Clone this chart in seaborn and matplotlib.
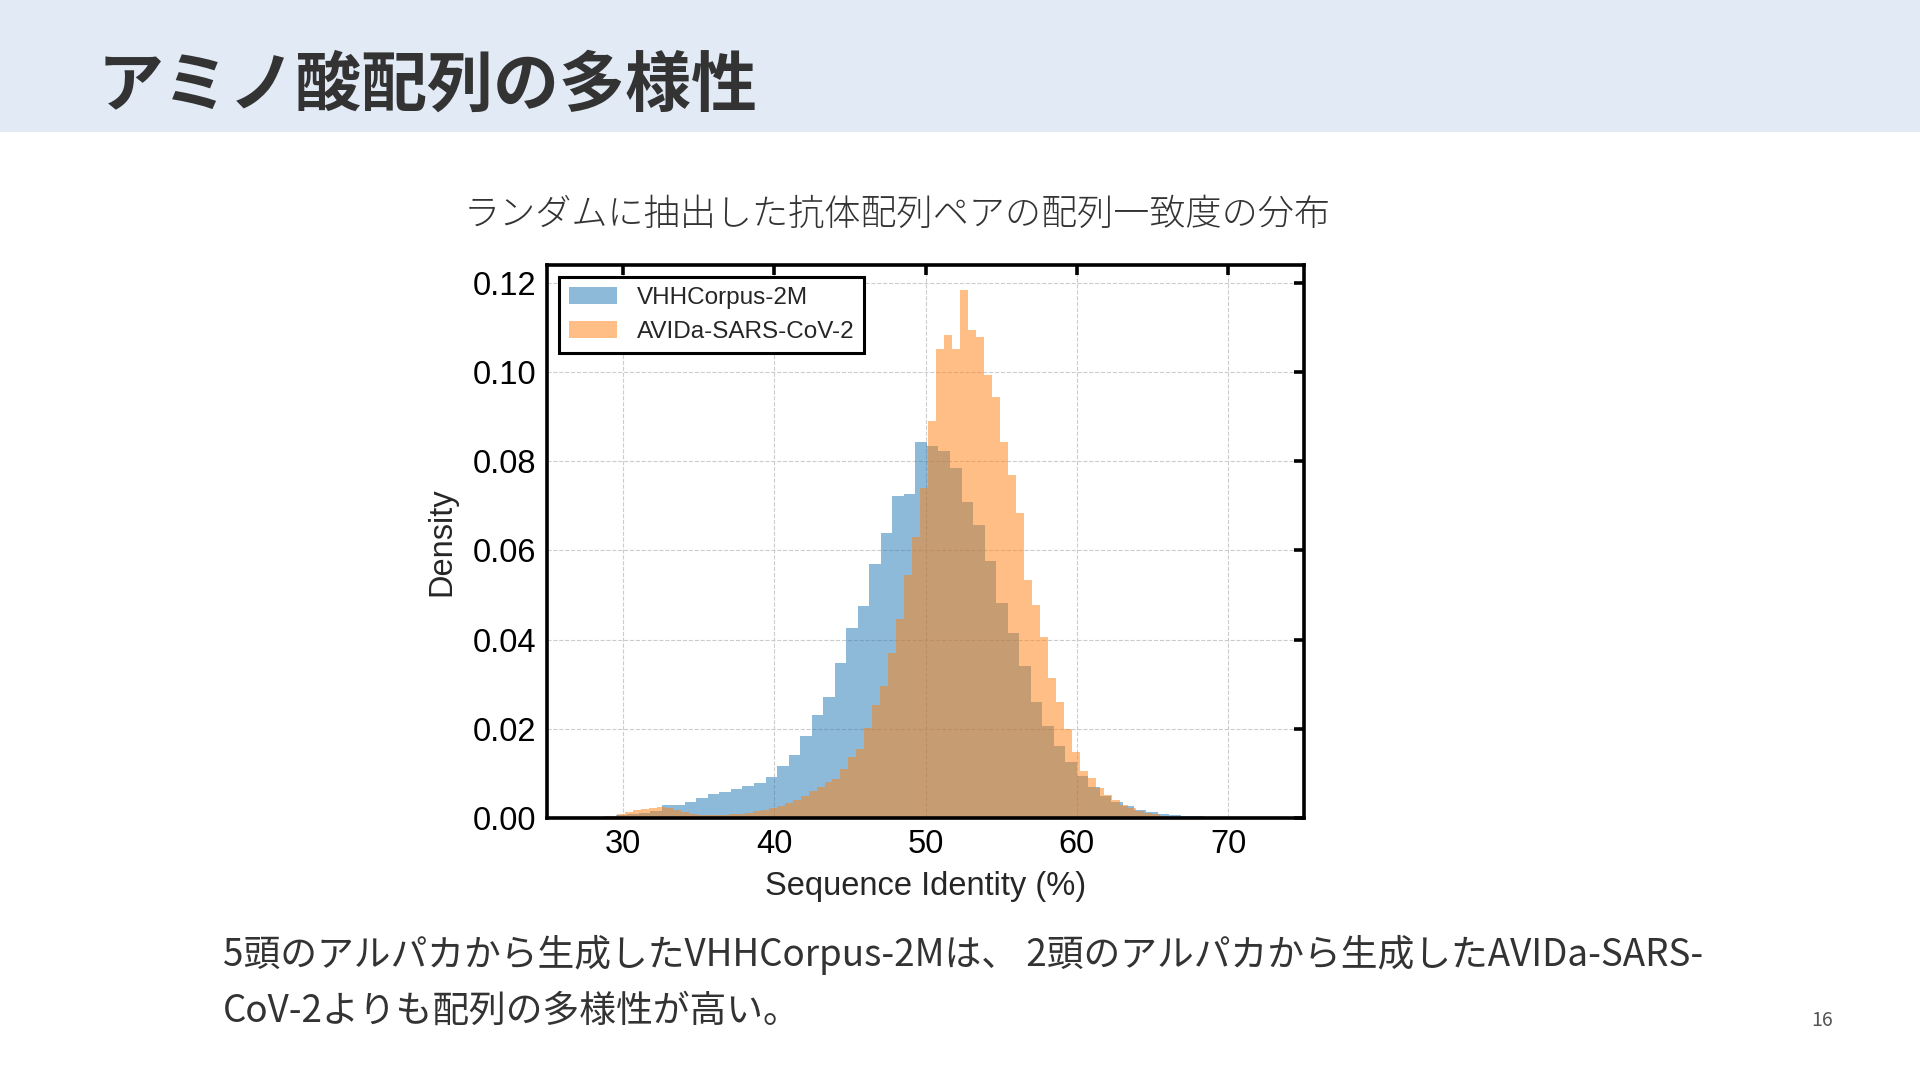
import numpy as np
import pandas as pd
import seaborn as sns
import matplotlib.pyplot as plt
from matplotlib.patches import Rectangle

# 値は図から読み取り（各ビンの密度）
vhh_label = "VHHCorpus-2M"
vhh_bin_start = 26.49
vhh_bin_width = 0.7615
vhh_density = [
    0.0001, 0.0002, 0.0003, 0.0005, 0.0007, 0.0009, 0.0012, 0.0016, 0.0029, 0.0030,
    0.0036, 0.0045, 0.0053, 0.0059, 0.0065, 0.0071, 0.0078, 0.0092, 0.0116, 0.0142,
    0.0184, 0.0232, 0.0272, 0.0347, 0.0425, 0.0476, 0.0569, 0.0638, 0.0722, 0.0726,
    0.0843, 0.0835, 0.0822, 0.0784, 0.0709, 0.0656, 0.0577, 0.0483, 0.0414, 0.0341,
    0.0260, 0.0206, 0.0161, 0.0125, 0.0094, 0.0069, 0.0049, 0.0036, 0.0026, 0.0019,
    0.0014, 0.0010, 0.0007, 0.0005, 0.0004, 0.0003, 0.0002, 0.0001,
]

avida_label = "AVIDa-SARS-CoV-2"
avida_bin_start = 28.046
avida_bin_width = 0.527
avida_density = [
    0.0002, 0.0003, 0.0005, 0.0008, 0.0013, 0.0017, 0.0020, 0.0023, 0.0024, 0.0022,
    0.0018, 0.0014, 0.0010, 0.0007, 0.0006, 0.0006, 0.0007, 0.0008, 0.0010, 0.0012,
    0.0015, 0.0019, 0.0023, 0.0028, 0.0034, 0.0041, 0.0050, 0.0060, 0.0069, 0.0080,
    0.0088, 0.0109, 0.0137, 0.0154, 0.0201, 0.0253, 0.0297, 0.0371, 0.0447, 0.0545,
    0.0631, 0.0741, 0.0891, 0.1052, 0.1082, 0.1052, 0.1185, 0.1094, 0.1078, 0.0993,
    0.0943, 0.0843, 0.0768, 0.0685, 0.0534, 0.0478, 0.0406, 0.0315, 0.0260, 0.0200,
    0.0148, 0.0105, 0.0090, 0.0067, 0.0052, 0.0040, 0.0030, 0.0022, 0.0016, 0.0011,
    0.0008, 0.0005, 0.0003, 0.0002, 0.0001,
]

x_ticks = [30, 40, 50, 60, 70]
y_ticks = [0.00, 0.02, 0.04, 0.06, 0.08, 0.10, 0.12]

title = "アミノ酸配列の多様性"
subtitle = "ランダムに抽出した抗体配列ペアの配列一致度の分布"
note_line1 = "5頭のアルパカから生成したVHHCorpus-2Mは、 2頭のアルパカから生成したAVIDa-SARS-"
note_line2 = "CoV-2よりも配列の多様性が高い。"
page_no = "16"

sns.set_style("white")
plt.rcParams['font.family'] = ['Liberation Sans', 'Noto Sans CJK JP', 'DejaVu Sans']
jp = ['Noto Sans CJK JP', 'DejaVu Sans']


def hist_table(start, width, values):
    edges = start + width * np.arange(len(values) + 1)
    df = pd.DataFrame({"identity": (edges[:-1] + edges[1:]) / 2, "density": values})
    return df, list(edges)


fig = plt.figure(figsize=(19.2, 10.8), dpi=100)

# ヘッダー帯
fig.add_artist(Rectangle((0, 1 - 132 / 1080), 1, 132 / 1080, transform=fig.transFigure,
                         facecolor='#E2EAF6', edgecolor='none', zorder=0))
fig.text(98 / 1920, 1 - 86 / 1080, title, family=jp, fontsize=47.5, fontweight='bold',
         color='#333333', va='center', ha='left')
fig.text(897 / 1920, 1 - 215 / 1080, subtitle, family=jp, fontsize=26, fontweight='light',
         color='#333333', va='center', ha='center')

ax = fig.add_axes([547 / 1920, 1 - 818 / 1080, 757 / 1920, 553 / 1080])

df_vhh, edges_vhh = hist_table(vhh_bin_start, vhh_bin_width, vhh_density)
sns.histplot(data=df_vhh, x="identity", weights="density", bins=edges_vhh,
             color='#1f77b4', alpha=0.5, linewidth=0, label=vhh_label, ax=ax)
df_avida, edges_avida = hist_table(avida_bin_start, avida_bin_width, avida_density)
sns.histplot(data=df_avida, x="identity", weights="density", bins=edges_avida,
             color='#ff7f0e', alpha=0.5, linewidth=0, label=avida_label, ax=ax)

ax.set_xlim(25, 75)
ax.set_ylim(0, 0.124)
ax.set_xticks(x_ticks)
ax.set_yticks(y_ticks)
ax.set_yticklabels([f"{v:.2f}" for v in y_ticks])
ax.grid(True, linestyle='--', color='#cccccc', linewidth=0.8)
ax.set_axisbelow(True)
for s in ax.spines.values():
    s.set_visible(True)
    s.set_color('black')
    s.set_linewidth(2.6)
ax.tick_params(direction='in', length=7, width=2.6, top=True, right=True,
               labelsize=23.5, pad=8, colors='black')

ax.set_xlabel("Sequence Identity (%)", fontsize=23.5)
ax.set_ylabel("Density", fontsize=23.5)
ax.xaxis.set_label_coords(0.5, -0.096)
ax.yaxis.set_label_coords(-0.118, 0.5)

leg = ax.legend(loc='upper left', fontsize=17.5, fancybox=False, framealpha=1,
                edgecolor='black', borderaxespad=0.5, labelspacing=0.5)
leg.get_frame().set_linewidth(2.2)

fig.text(223 / 1920, 1 - 955 / 1080, note_line1, family=jp, fontsize=26.5,
         color='#333333', va='center', ha='left')
fig.text(223 / 1920, 1 - 1011 / 1080, note_line2, family=jp, fontsize=26.5,
         color='#333333', va='center', ha='left')
fig.text(1822 / 1920, 1 - 1020 / 1080, page_no, family=jp, fontsize=14,
         color='#555555', va='center', ha='center')

plt.savefig("out.png", dpi=100)
